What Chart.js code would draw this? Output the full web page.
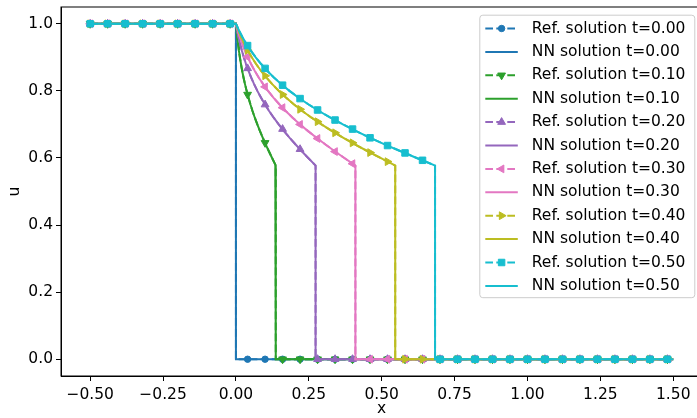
<!DOCTYPE html>
<html>
<head>
<meta charset="utf-8">
<script src="https://cdn.jsdelivr.net/npm/chart.js@4.4.0/dist/chart.umd.min.js"></script>
<style>
  html, body { margin: 0; padding: 0; background: #fff; overflow: hidden; }
  #wrap { width: 708px; height: 418px; }
</style>
</head>
<body>
<div id="wrap"><canvas id="myChart" width="708" height="418"></canvas></div>
<script>
const times = ['0.00', '0.10', '0.20', '0.30', '0.40', '0.50'];
const colors = ['#1f77b4', '#2ca02c', '#9467bd', '#e377c2', '#bcbd22', '#17becf'];
const xTicks = [-0.5, -0.25, 0, 0.25, 0.5, 0.75, 1, 1.25, 1.5];
const yTicks = [0, 0.2, 0.4, 0.6, 0.8, 1];

// x positions of the reference markers
const markerX = [-0.5, -0.44, -0.38, -0.32, -0.26, -0.2, -0.14, -0.08, -0.02,
  0.04, 0.1, 0.16, 0.22, 0.28, 0.34, 0.4, 0.46, 0.52, 0.58, 0.64, 0.7, 0.76,
  0.82, 0.88, 0.94, 1.0, 1.06, 1.12, 1.18, 1.24, 1.3, 1.36, 1.42, 1.48];

// reference solution at the markers
const refU00 = [1, 1, 1, 1, 1, 1, 1, 1, 1,
  0, 0, 0, 0, 0, 0, 0, 0, 0, 0, 0, 0, 0, 0, 0, 0, 0, 0, 0, 0, 0, 0, 0, 0, 0];
const refU10 = [1, 1, 1, 1, 1, 1, 1, 1, 1,
  0.789, 0.645, 0, 0, 0, 0, 0, 0, 0, 0, 0, 0, 0, 0, 0, 0, 0, 0, 0, 0, 0, 0, 0, 0, 0];
const refU20 = [1, 1, 1, 1, 1, 1, 1, 1, 1,
  0.867, 0.759, 0.686, 0.626, 0, 0, 0, 0, 0, 0, 0, 0, 0, 0, 0, 0, 0, 0, 0, 0, 0, 0, 0, 0, 0];
const refU30 = [1, 1, 1, 1, 1, 1, 1, 1, 1,
  0.901, 0.812, 0.750, 0.700, 0.658, 0.619, 0.583, 0, 0, 0, 0, 0, 0, 0, 0, 0, 0, 0, 0, 0, 0, 0, 0, 0, 0];
const refU40 = [1, 1, 1, 1, 1, 1, 1, 1, 1,
  0.921, 0.845, 0.789, 0.745, 0.708, 0.675, 0.645, 0.616, 0.589, 0, 0, 0, 0, 0, 0, 0, 0, 0, 0, 0, 0, 0, 0, 0, 0];
const refU50 = [1, 1, 1, 1, 1, 1, 1, 1, 1,
  0.935, 0.867, 0.817, 0.777, 0.743, 0.713, 0.686, 0.660, 0.637, 0.615, 0.593, 0, 0, 0, 0, 0, 0, 0, 0, 0, 0, 0, 0, 0, 0];

// rarefaction fan: u values and where they sit for each time
const fanU = [1, 0.98, 0.96, 0.94, 0.92, 0.9, 0.88, 0.86, 0.84, 0.82, 0.8, 0.78,
  0.76, 0.74, 0.72, 0.7, 0.68, 0.66, 0.64, 0.62, 0.6, 0.58, 0.577];
const fanX00 = [0];
const fanX10 = [0, 0.0021, 0.0045, 0.0072, 0.0102, 0.0136, 0.0173, 0.0214, 0.0260, 0.0311, 0.0367, 0.0429,
  0.0496, 0.0569, 0.0648, 0.0734, 0.0825, 0.0922, 0.1024, 0.1130, 0.1240, 0.1351, 0.1366];
const fanX20 = [0, 0.0042, 0.0090, 0.0144, 0.0204, 0.0271, 0.0346, 0.0429, 0.0521, 0.0623, 0.0735, 0.0858,
  0.0992, 0.1138, 0.1297, 0.1467, 0.1650, 0.1844, 0.2047, 0.2260, 0.2479, 0.2702, 0.2732];
const fanX30 = [0, 0.0064, 0.0135, 0.0216, 0.0306, 0.0407, 0.0519, 0.0643, 0.0781, 0.0934, 0.1102, 0.1286,
  0.1488, 0.1708, 0.1945, 0.2201, 0.2475, 0.2765, 0.3071, 0.3390, 0.3719, 0.4053, 0.4098];
const fanX40 = [0, 0.0085, 0.0180, 0.0288, 0.0408, 0.0542, 0.0692, 0.0858, 0.1042, 0.1245, 0.1469, 0.1715,
  0.1984, 0.2277, 0.2594, 0.2935, 0.3300, 0.3687, 0.4094, 0.4520, 0.4959, 0.5404, 0.5464];
const fanX50 = [0, 0.0106, 0.0226, 0.0360, 0.0510, 0.0678, 0.0865, 0.1072, 0.1302, 0.1557, 0.1837, 0.2144,
  0.2480, 0.2846, 0.3242, 0.3669, 0.4125, 0.4609, 0.5118, 0.5650, 0.6199, 0.6755, 0.6830];

const refU = [refU00, refU10, refU20, refU30, refU40, refU50];
const fanX = [fanX00, fanX10, fanX20, fanX30, fanX40, fanX50];

const markerStyle = ['circle', 'triangle', 'triangle', 'triangle', 'triangle', 'rect'];
const markerRot = [0, 180, 0, 270, 90, 0];
const markerRad = [3.2, 4.5, 4.5, 4.5, 4.5, 4.6];
const dash = [7.7, 3.3];
const FONT = { family: 'DejaVu Sans', size: 15.5 };

function refPoints(u, fx) {
  const pts = markerX.map((x, i) => ({ x: x, y: u[i], m: true }));
  fx.forEach((x, j) => pts.push({ x: x, y: fanU[j], m: false }));
  pts.push({ x: fx[fx.length - 1], y: 0, m: false });
  pts.sort((a, b) => (a.x - b.x) || (b.y - a.y));
  return pts;
}

function nnPoints(fx) {
  const pts = [{ x: -0.5, y: 1 }];
  fx.forEach((x, j) => pts.push({ x: x, y: fanU[j] }));
  pts.push({ x: fx[fx.length - 1], y: 0 }, { x: 1.5, y: 0 });
  return pts;
}

const datasets = [];
times.forEach((t, i) => {
  datasets.push({
    label: 'Ref. solution t=' + t,
    data: refPoints(refU[i], fanX[i]),
    borderColor: colors[i],
    backgroundColor: colors[i],
    borderWidth: 2,
    borderDash: dash,
    pointStyle: markerStyle[i],
    rotation: markerRot[i],
    pointRadius: (c) => (c.raw && c.raw.m ? markerRad[i] : 0),
    pointBorderWidth: 1,
    pointHoverRadius: 0,
    order: 100 - datasets.length
  });
  datasets.push({
    label: 'NN solution t=' + t,
    data: nnPoints(fanX[i]),
    borderColor: colors[i],
    backgroundColor: colors[i],
    borderWidth: 2,
    pointRadius: 0,
    pointHoverRadius: 0,
    order: 100 - datasets.length
  });
});

function fmt(v, d) {
  return (v < 0 ? '\u2212' : '') + Math.abs(v).toFixed(d);
}

// axes frame + legend box like matplotlib
const framePlugin = {
  id: 'frame',
  afterDraw(chart) {
    const ctx = chart.ctx;
    const a = chart.chartArea;
    ctx.save();
    ctx.strokeStyle = '#000';
    ctx.lineWidth = 1;
    ctx.strokeRect(a.left, a.top, a.right - a.left, a.bottom - a.top);

    // legend
    const w = 215, h = 282.5;
    const bx = a.right - 7.6 - w, by = a.top + 8.2;
    ctx.beginPath();
    ctx.roundRect(bx, by, w, h, 3);
    ctx.fillStyle = 'rgba(255,255,255,0.8)';
    ctx.fill();
    ctx.strokeStyle = '#cccccc';
    ctx.stroke();

    ctx.font = FONT.size + 'px ' + FONT.family;
    ctx.textBaseline = 'middle';
    ctx.textAlign = 'left';
    datasets.forEach((ds, k) => {
      const i = Math.floor(k / 2);
      const cy = by + 13.3 + 23.4 * k;
      ctx.strokeStyle = colors[i];
      ctx.lineWidth = 2;
      ctx.setLineDash(k % 2 === 0 ? dash : []);
      ctx.beginPath();
      ctx.moveTo(bx + 5.5, cy);
      ctx.lineTo(bx + 38, cy);
      ctx.stroke();
      ctx.setLineDash([]);
      if (k % 2 === 0) {
        ctx.fillStyle = colors[i];
        ctx.lineWidth = 1;
        Chart.helpers.drawPoint(ctx, {
          pointStyle: markerStyle[i], rotation: markerRot[i],
          radius: markerRad[i], borderWidth: 1
        }, bx + 21.8, cy);
      }
      ctx.fillStyle = '#000';
      ctx.fillText(ds.label, bx + 52, cy);
    });
    ctx.restore();
  }
};

const gridOpts = {
  drawOnChartArea: false, drawTicks: true, tickLength: 5,
  color: '#000', tickColor: '#000', tickWidth: 1
};

new Chart(document.getElementById('myChart'), {
  type: 'line',
  data: { datasets: datasets },
  options: {
    responsive: false,
    animation: false,
    devicePixelRatio: 1,
    layout: { padding: { top: 7, right: 3, left: 0, bottom: 0 } },
    plugins: { legend: { display: false }, tooltip: { enabled: false } },
    elements: { line: { tension: 0 } },
    scales: {
      x: {
        type: 'linear', min: -0.6, max: 1.6,
        afterBuildTicks: (s) => { s.ticks = xTicks.map(v => ({ value: v })); },
        afterFit: (s) => { s.height = 42; s.paddingLeft = 0; s.paddingRight = 0; },
        grid: gridOpts,
        border: { display: true, color: '#000', width: 1 },
        ticks: { font: FONT, color: '#000', padding: 4.5, maxRotation: 0, autoSkip: false,
          callback: (v) => fmt(v, 2) },
        title: { display: true, text: 'x', font: FONT, color: '#000', padding: { top: 0, bottom: 0.2 } }
      },
      y: {
        type: 'linear', min: -0.05, max: 1.05,
        afterBuildTicks: (s) => { s.ticks = yTicks.map(v => ({ value: v })); },
        afterFit: (s) => { s.width = 61; s.paddingTop = 0; s.paddingBottom = 0; },
        grid: gridOpts,
        border: { display: true, color: '#000', width: 1 },
        ticks: { font: FONT, color: '#000', padding: 3, callback: (v) => fmt(v, 1) },
        title: { display: true, text: 'u', font: FONT, color: '#000', padding: { top: 5.6, bottom: 0 } }
      }
    }
  },
  plugins: [framePlugin]
});
</script>
</body>
</html>
